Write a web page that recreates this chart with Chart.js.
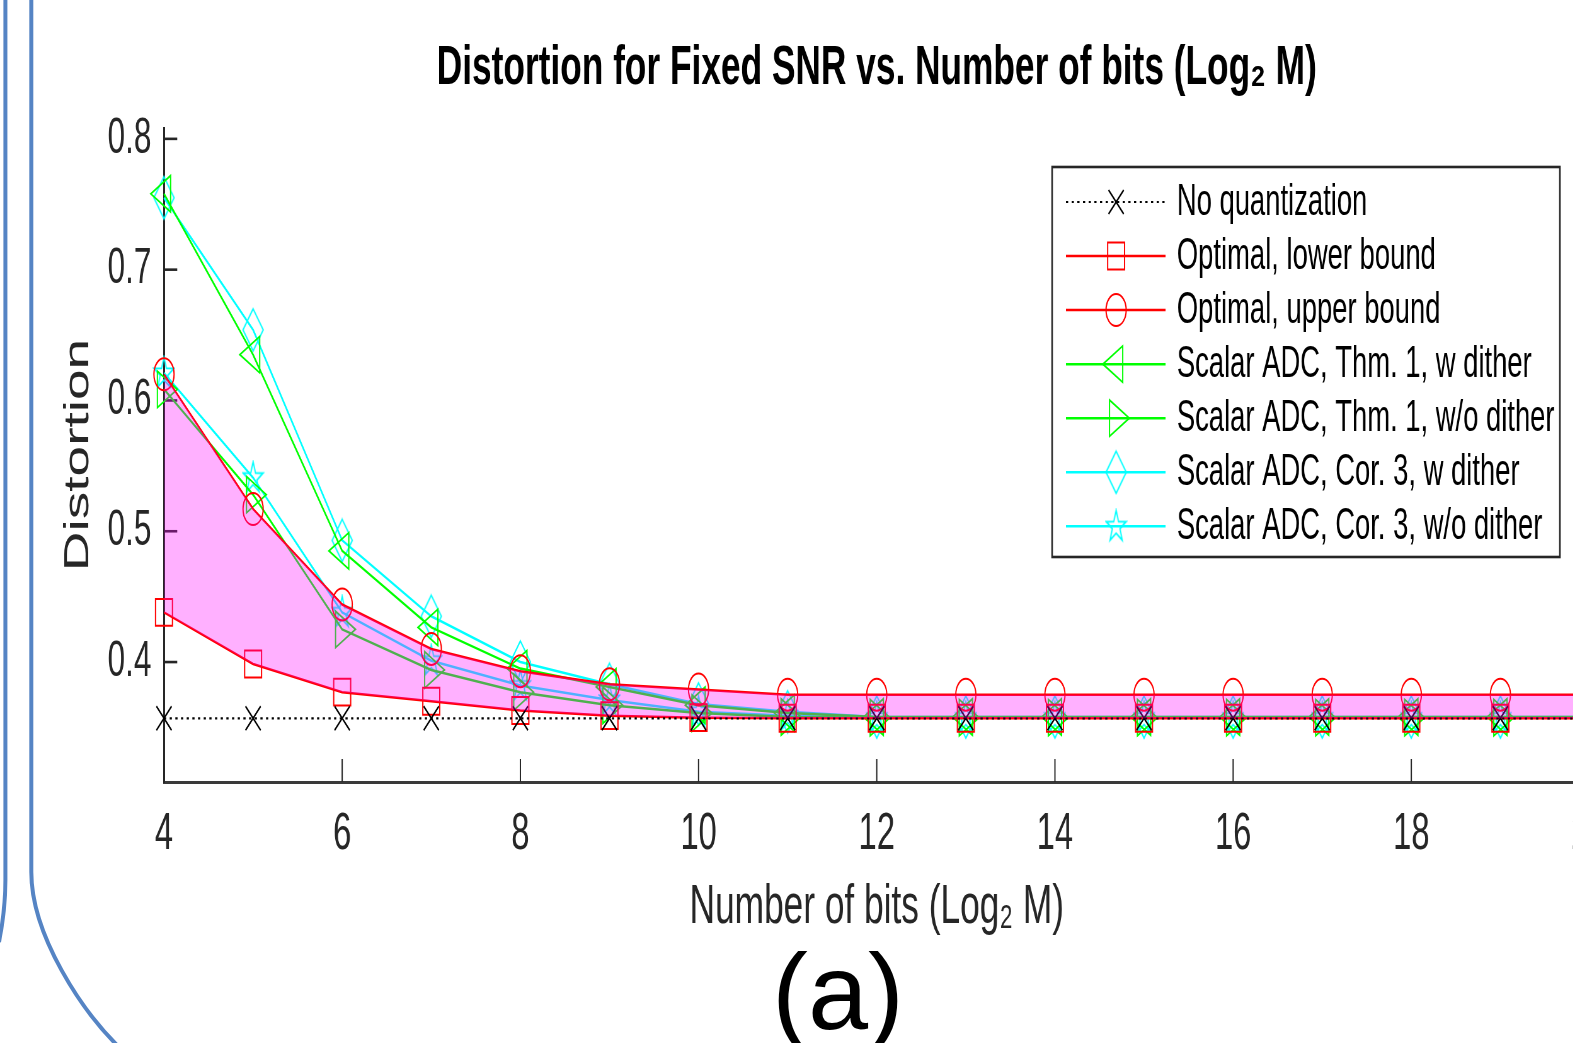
<!DOCTYPE html>
<html>
<head>
<meta charset="utf-8">
<script src="https://cdn.jsdelivr.net/npm/chart.js@4.4.1/dist/chart.umd.min.js"></script>
<style>
html,body{margin:0;padding:0;background:#fff;overflow:hidden;width:1573px;height:1043px;position:relative;}
#wrap{position:absolute;left:0;top:0;width:2554px;height:1043px;transform:scaleX(0.63);transform-origin:0 0;}
#caption{position:absolute;left:738px;width:200px;top:938px;text-align:center;font-family:"Liberation Sans",Arial,sans-serif;font-size:108px;line-height:108px;color:#000;white-space:nowrap;}
#frame{position:absolute;left:0;top:0;}
</style>
</head>
<body>
<div id="wrap"><canvas id="c"></canvas></div>
<svg id="frame" width="1573" height="1043">
  <path d="M5.4,-5 L5.4,880 C5.4,905 3,922 -1,942" fill="none" stroke="#5584C4" stroke-width="4"/>
  <path d="M31.3,-5 L31.3,872 C31.3,935 82,1012 122,1050" fill="none" stroke="#5584C4" stroke-width="4"/>
</svg>
<div id="caption">(a)</div>
<script>
// ---------------- data ----------------
const xBits = [4, 5, 6, 7, 8, 9, 10, 11, 12, 13, 14, 15, 16, 17, 18, 19, 20];
const noQuant = [0.357, 0.357, 0.357, 0.357, 0.357, 0.357, 0.357, 0.357, 0.357, 0.357, 0.357, 0.357, 0.357, 0.357, 0.357, 0.357, 0.357];
const lowerBound = [0.438, 0.3985, 0.377, 0.370, 0.363, 0.359, 0.3575, 0.357, 0.357, 0.357, 0.357, 0.357, 0.357, 0.357, 0.357, 0.357, 0.357];
const upperBound = [0.620, 0.517, 0.444, 0.410, 0.393, 0.383, 0.379, 0.375, 0.375, 0.375, 0.375, 0.375, 0.375, 0.375, 0.375, 0.375, 0.375];
const thm1Dither = [0.758, 0.635, 0.485, 0.4265, 0.395, 0.381, 0.367, 0.361, 0.358, 0.358, 0.358, 0.358, 0.358, 0.358, 0.358, 0.358, 0.358];
const thm1NoDither = [0.6085, 0.528, 0.425, 0.394, 0.377, 0.367, 0.361, 0.358, 0.3575, 0.3575, 0.3575, 0.3575, 0.3575, 0.3575, 0.3575, 0.3575, 0.3575];
const cor3Dither = [0.755, 0.654, 0.493, 0.435, 0.400, 0.383, 0.368, 0.362, 0.358, 0.358, 0.358, 0.358, 0.358, 0.358, 0.358, 0.358, 0.358];
const cor3NoDither = [0.621, 0.541, 0.438, 0.401, 0.382, 0.371, 0.362, 0.359, 0.3575, 0.3575, 0.3575, 0.3575, 0.3575, 0.3575, 0.3575, 0.3575, 0.3575];
const seriesNames = ["No quantization", "Optimal, lower bound", "Optimal, upper bound",
  "Scalar ADC, Thm. 1, w dither", "Scalar ADC, Thm. 1, w/o dither",
  "Scalar ADC, Cor. 3, w dither", "Scalar ADC, Cor. 3, w/o dither"];
const xTicks = [4, 6, 8, 10, 12, 14, 16, 18, 20];
const yTicks = [0.4, 0.5, 0.6, 0.7, 0.8];
const titleText = "Distortion for Fixed SNR vs. Number of bits (Log\u2082 M)";
const xTitle = "Number of bits (Log\u2082 M)";
const yTitle = "Distortion";

// ---------------- helpers ----------------
const FONT = '"Liberation Sans", Arial, Helvetica, sans-serif';
function pts(vals) { return vals.map((v, i) => ({ x: xBits[i], y: v })); }
function makeStar(color) {
  const c = document.createElement('canvas'); c.width = 36; c.height = 36;
  const g = c.getContext('2d'); g.strokeStyle = color; g.lineWidth = 2; g.lineJoin = 'miter';
  g.beginPath();
  for (let i = 0; i < 10; i++) {
    const r = (i % 2) ? 6.4 : 16.5;
    const a = -Math.PI / 2 + i * Math.PI / 5;
    const px = 18 + r * Math.cos(a), py = 18.5 + r * Math.sin(a);
    if (i === 0) g.moveTo(px, py); else g.lineTo(px, py);
  }
  g.closePath(); g.stroke();
  return c;
}
function makeDiamond(color) {
  const c = document.createElement('canvas'); c.width = 36; c.height = 46;
  const g = c.getContext('2d'); g.strokeStyle = color; g.lineWidth = 2;
  g.beginPath(); g.moveTo(18, 2); g.lineTo(34, 23); g.lineTo(18, 44); g.lineTo(2, 23); g.closePath(); g.stroke();
  return c;
}
const starImg = makeStar('#00FFFF');
const diamondImg = makeDiamond('#00FFFF');

function lineDs(label, vals, color, style, radius, extra) {
  return Object.assign({
    label: label, data: pts(vals), borderColor: color, borderWidth: 2.5,
    pointStyle: style, pointRadius: radius, pointHoverRadius: radius,
    pointBorderColor: color, pointBackgroundColor: 'rgba(0,0,0,0)', pointBorderWidth: 2,
    fill: false, tension: 0, clip: false, order: 0
  }, extra || {});
}

const datasets = [
  lineDs(seriesNames[0], noQuant, '#000000', 'crossRot', 17, { borderDash: [3.5, 5.5], borderWidth: 2.2 }),
  lineDs(seriesNames[1], lowerBound, '#FF0000', 'rect', 19),
  lineDs(seriesNames[2], upperBound, '#FF0000', 'circle', 16),
  lineDs(seriesNames[3], thm1Dither, '#00FF00', 'triangle', 21, { pointRotation: -90 }),
  lineDs(seriesNames[4], thm1NoDither, '#00FF00', 'triangle', 21, { pointRotation: 90 }),
  lineDs(seriesNames[5], cor3Dither, '#00FFFF', diamondImg, 18),
  lineDs(seriesNames[6], cor3NoDither, '#00FFFF', starImg, 16),
  {
    label: 'region', data: pts(upperBound), borderWidth: 0, borderColor: 'rgba(0,0,0,0)',
    pointRadius: 0, fill: { target: 1 }, backgroundColor: 'rgba(255,0,255,0.31)', order: -1, tension: 0
  }
];

// ---------------- plugins ----------------
const AXIS = '#262626';
const inwardTicks = {
  id: 'inwardTicks',
  beforeDatasetsDraw(chart) {
    const { ctx, chartArea: a, scales: { x, y } } = chart;
    ctx.save(); ctx.strokeStyle = AXIS;
    ctx.lineWidth = 2.6;
    yTicks.forEach(v => { const p = y.getPixelForValue(v); ctx.beginPath(); ctx.moveTo(a.left, p); ctx.lineTo(a.left + 21, p); ctx.stroke(); });
    ctx.lineWidth = 2;
    xTicks.forEach(v => { const p = x.getPixelForValue(v); ctx.beginPath(); ctx.moveTo(p, a.bottom); ctx.lineTo(p, a.bottom - 23); ctx.stroke(); });
    ctx.restore();
  }
};

function drawMarker(ctx, ds, cx, cy) {
  const st = ds.pointStyle, r = ds.pointRadius, rot = (ds.pointRotation || 0) * Math.PI / 180;
  ctx.save(); ctx.translate(cx, cy);
  if (st instanceof HTMLCanvasElement) { ctx.drawImage(st, -st.width / 2, -st.height / 2); ctx.restore(); return; }
  ctx.rotate(rot);
  ctx.strokeStyle = ds.pointBorderColor; ctx.lineWidth = ds.pointBorderWidth; ctx.setLineDash([]);
  ctx.beginPath();
  if (st === 'circle') ctx.arc(0, 0, r, 0, Math.PI * 2);
  else if (st === 'rect') { const s = r * Math.SQRT1_2; ctx.rect(-s, -s, 2 * s, 2 * s); }
  else if (st === 'triangle') { for (let k = 0; k < 3; k++) { const t = k * 2 * Math.PI / 3; if (k === 0) ctx.moveTo(Math.sin(t) * r, -Math.cos(t) * r); else ctx.lineTo(Math.sin(t) * r, -Math.cos(t) * r); } ctx.closePath(); }
  else if (st === 'crossRot') { const d = r * Math.SQRT1_2; ctx.moveTo(-d, -d); ctx.lineTo(d, d); ctx.moveTo(d, -d); ctx.lineTo(-d, d); }
  ctx.stroke(); ctx.restore();
}

const matLegend = {
  id: 'matLegend',
  afterDraw(chart) {
    const ctx = chart.ctx;
    const bx = 1670, by = 167, bw = 806, bh = 390;
    ctx.save();
    ctx.fillStyle = '#ffffff'; ctx.fillRect(bx, by, bw, bh);
    ctx.strokeStyle = AXIS; ctx.lineWidth = 2.6; ctx.strokeRect(bx, by, bw, bh);
    const rowY0 = 202, rowStep = 54.05;
    for (let i = 0; i < seriesNames.length; i++) {
      const ds = chart.data.datasets[i];
      const yy = rowY0 + i * rowStep;
      ctx.save();
      ctx.strokeStyle = ds.borderColor; ctx.lineWidth = ds.borderWidth;
      ctx.setLineDash(ds.borderDash || []);
      ctx.beginPath(); ctx.moveTo(1692, yy); ctx.lineTo(1850, yy); ctx.stroke();
      ctx.restore();
      drawMarker(ctx, ds, 1771.6, yy);
      ctx.fillStyle = '#000000'; ctx.font = '43.5px ' + FONT; ctx.textBaseline = 'middle'; ctx.textAlign = 'left';
      ctx.fillText(ds.label, 1868, yy + 1);
    }
    ctx.restore();
  }
};

// ---------------- chart ----------------
new Chart(document.getElementById('c'), {
  type: 'line',
  data: { datasets: datasets },
  plugins: [inwardTicks, matLegend],
  options: {
    responsive: true, maintainAspectRatio: false, animation: false,
    layout: { padding: { left: 0, right: 31, top: 0, bottom: 0 }, autoPadding: false },
    plugins: {
      legend: { display: false },
      tooltip: { enabled: false },
      filler: { drawTime: 'beforeDatasetDraw' },
      title: {
        display: true, text: titleText, fullSize: false, color: '#000000',
        font: { family: FONT, size: 56, weight: 'bold', lineHeight: 1.2 },
        padding: { top: 35, bottom: 25.8 }
      }
    },
    scales: {
      x: {
        type: 'linear', min: 4, max: 20,
        afterBuildTicks: s => { s.ticks = xTicks.map(v => ({ value: v })); },
        afterFit: s => { s.height = 261; s.paddingLeft = 0; s.paddingRight = 0; },
        grid: { display: false, drawTicks: false },
        border: { display: true, color: '#3a3a3a', width: 3 },
        ticks: { color: AXIS, padding: 21, font: { family: FONT, size: 52 }, callback: v => String(v), maxRotation: 0, autoSkip: false },
        title: { display: true, text: xTitle, color: AXIS, font: { family: FONT, size: 56, lineHeight: 1.2 }, padding: { top: 0, bottom: 102 } }
      },
      y: {
        type: 'linear', min: 0.3083, max: 0.8083,
        afterBuildTicks: s => { s.ticks = yTicks.map(v => ({ value: v })); },
        afterFit: s => { s.width = 260.3; },
        grid: { display: false, drawTicks: false },
        border: { display: true, color: AXIS, width: 3 },
        ticks: { color: AXIS, padding: 20, font: { family: FONT, size: 50 }, callback: v => v.toFixed(1), autoSkip: false },
        title: { display: true, text: yTitle, color: AXIS, font: { family: FONT, size: 55, lineHeight: 1.2 }, padding: { top: 92, bottom: 0 } }
      }
    }
  }
});
</script>
</body>
</html>
